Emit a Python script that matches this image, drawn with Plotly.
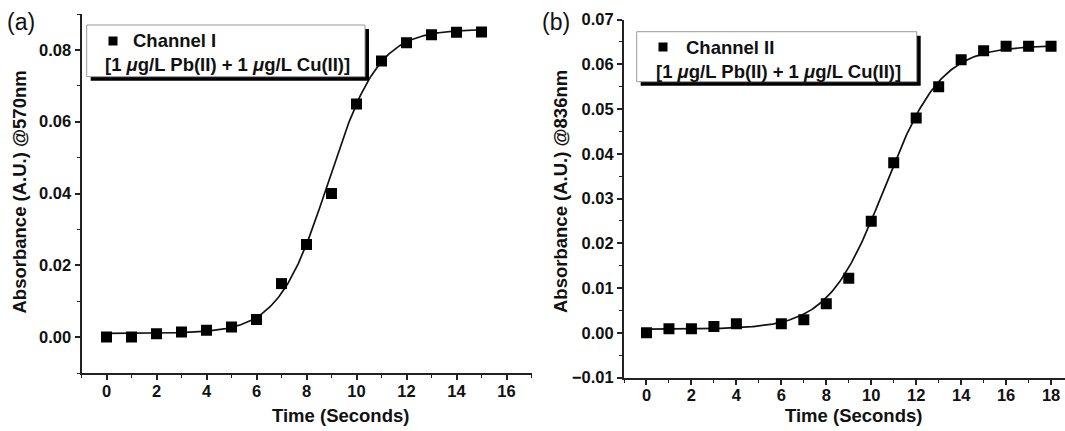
import numpy as np
import plotly.graph_objects as go

W, H = 1065, 431

# ---- data ----
time_a = [0, 1, 2, 3, 4, 5, 6, 7, 8, 9, 10, 11, 12, 13, 14, 15]
abs_a = [0.0, 0.0, 0.0009, 0.0014, 0.0019, 0.0028, 0.0049, 0.0149, 0.0258,
         0.0400, 0.0649, 0.0769, 0.0820, 0.0842, 0.0849, 0.0850]
time_b = [0, 1, 2, 3, 4, 6, 7, 8, 9, 10, 11, 12, 13, 14, 15, 16, 17, 18]
abs_b = [0.0, 0.0009, 0.0009, 0.0014, 0.0020, 0.0020, 0.0029, 0.0065, 0.0122,
         0.0249, 0.0380, 0.0480, 0.0550, 0.0610, 0.0630, 0.0640, 0.0640, 0.0640]

# Boltzmann fit parameters (A1, A2, x0, dx) estimated from the drawn curves
fit_a = (0.0010, 0.0858, 8.88, 1.0)
fit_b = (0.0008, 0.0642, 10.6, 1.25)

label_a = "Channel I"
label_b = "Channel II"
conc_text = "[1 <i>μ</i>g/L Pb(II) + 1 <i>μ</i>g/L Cu(II)]"
ytitle_a = "Absorbance (A.U.) @570nm"
ytitle_b = "Absorbance (A.U.) @836nm"
xtitle = "Time (Seconds)"


def boltz(x, p):
    a1, a2, x0, dx = p
    return a2 + (a1 - a2) / (1 + np.exp((x - x0) / dx))


def px(x):
    return x / W


def py(y):
    return 1 - y / H


FONT = "Liberation Sans, Arial, sans-serif"
fig = go.Figure()

xa = np.linspace(0, 15, 300)
xb = np.linspace(0, 18, 300)
fig.add_trace(go.Scatter(x=xa, y=boltz(xa, fit_a), mode="lines",
                         line=dict(color="#111", width=1.7), xaxis="x", yaxis="y",
                         showlegend=False, hoverinfo="skip"))
fig.add_trace(go.Scatter(x=time_a, y=abs_a, mode="markers",
                         marker=dict(symbol="square", size=11, color="#000"),
                         xaxis="x", yaxis="y", showlegend=False))
fig.add_trace(go.Scatter(x=xb, y=boltz(xb, fit_b), mode="lines",
                         line=dict(color="#111", width=1.7), xaxis="x2", yaxis="y2",
                         showlegend=False, hoverinfo="skip"))
fig.add_trace(go.Scatter(x=time_b, y=abs_b, mode="markers",
                         marker=dict(symbol="square", size=11, color="#000"),
                         xaxis="x2", yaxis="y2", showlegend=False))

tickfont = dict(family=FONT, size=16.5, color="#111", weight="bold")
common_x = dict(showgrid=False, zeroline=False, showline=True, linewidth=2,
                linecolor="#222", ticks="outside", ticklen=5, tickwidth=1.5,
                tickcolor="#222", dtick=2, tick0=0, tickfont=tickfont, automargin=False,
                ticklabelstandoff=-3,
                minor=dict(dtick=1, ticks="outside", ticklen=3, tickcolor="#222", tickwidth=1.2))
common_y = dict(showgrid=False, zeroline=False, showline=True, linewidth=2,
                linecolor="#222", ticks="outside", ticklen=5, tickwidth=1.5,
                tickcolor="#222", tickfont=tickfont, tickformat=".2f", automargin=False)

fig.update_layout(
    width=W, height=H, margin=dict(l=0, r=0, t=0, b=0, autoexpand=False),
    paper_bgcolor="white", plot_bgcolor="white",
    xaxis=dict(common_x, domain=[px(81.5), px(531.5)], range=[-1, 17], anchor="y"),
    yaxis=dict(common_y, domain=[py(373), py(14)], range=[-0.01, 0.09],
               dtick=0.02, tick0=0, anchor="x",
               minor=dict(dtick=0.01, ticks="outside", ticklen=3, tickcolor="#222", tickwidth=1.2)),
    xaxis2=dict(common_x, domain=[px(624), 1.0], range=[-1, 18.62], anchor="y2"),
    yaxis2=dict(common_y, domain=[py(377.5), py(19.5)], range=[-0.01, 0.07],
                dtick=0.01, tick0=0, anchor="x2",
                minor=dict(dtick=0.005, ticks="outside", ticklen=3, tickcolor="#222", tickwidth=1.2)),
)

shapes = []
annotations = []
LEG_SIZE = 18.5


def legend_box(x0, y0, x1, y1, mx, my, tx, line1, line2_cx, line2_y):
    # shadow
    shapes.append(dict(type="rect", xref="paper", yref="paper",
                       x0=px(x0 + 4), x1=px(x1 + 4), y0=py(y1 + 4), y1=py(y0 + 4),
                       fillcolor="#000", line=dict(width=0), layer="above"))
    shapes.append(dict(type="rect", xref="paper", yref="paper",
                       x0=px(x0), x1=px(x1), y0=py(y1), y1=py(y0),
                       fillcolor="white", line=dict(color="#999", width=1), layer="above"))
    shapes.append(dict(type="rect", xref="paper", yref="paper",
                       x0=px(mx - 4.5), x1=px(mx + 4.5), y0=py(my + 4.5), y1=py(my - 4.5),
                       fillcolor="#000", line=dict(width=0), layer="above"))
    annotations.append(dict(xref="paper", yref="paper", x=px(tx), y=py(my),
                            xanchor="left", yanchor="middle", showarrow=False,
                            text="<b>" + line1 + "</b>",
                            font=dict(family=FONT, size=LEG_SIZE, color="#111")))
    annotations.append(dict(xref="paper", yref="paper", x=px(line2_cx), y=py(line2_y),
                            xanchor="center", yanchor="middle", showarrow=False,
                            text="<b>" + conc_text + "</b>",
                            font=dict(family=FONT, size=LEG_SIZE, color="#111")))


legend_box(86.7, 25, 365, 76.7, 113, 41, 131, label_a, 227, 65)
legend_box(636.7, 31.7, 916.7, 81.7, 663, 47, 684, label_b, 778, 71.5)

title_font = dict(family=FONT, size=18.5, color="#111")
annotations += [
    dict(xref="paper", yref="paper", x=px(18.5), y=py(192), text="<b>" + ytitle_a + "</b>",
         textangle=-90, showarrow=False, xanchor="center", yanchor="middle", font=title_font),
    dict(xref="paper", yref="paper", x=px(560), y=py(192), text="<b>" + ytitle_b + "</b>",
         textangle=-90, showarrow=False, xanchor="center", yanchor="middle", font=title_font),
    dict(xref="paper", yref="paper", x=px(340), y=py(415), text="<b>" + xtitle + "</b>",
         showarrow=False, xanchor="center", yanchor="middle", font=title_font),
    dict(xref="paper", yref="paper", x=px(853), y=py(415), text="<b>" + xtitle + "</b>",
         showarrow=False, xanchor="center", yanchor="middle", font=title_font),
    dict(xref="paper", yref="paper", x=px(5), y=py(22), text="(a)", showarrow=False,
         xanchor="left", yanchor="middle", font=dict(family=FONT, size=23, color="#111")),
    dict(xref="paper", yref="paper", x=px(540), y=py(22), text="(b)", showarrow=False,
         xanchor="left", yanchor="middle", font=dict(family=FONT, size=23, color="#111")),
]

fig.update_layout(shapes=shapes, annotations=annotations)
fig.write_html("out.html", config={"displayModeBar": False},
               post_script="document.body.style.margin='0';document.body.style.overflow='hidden';")
